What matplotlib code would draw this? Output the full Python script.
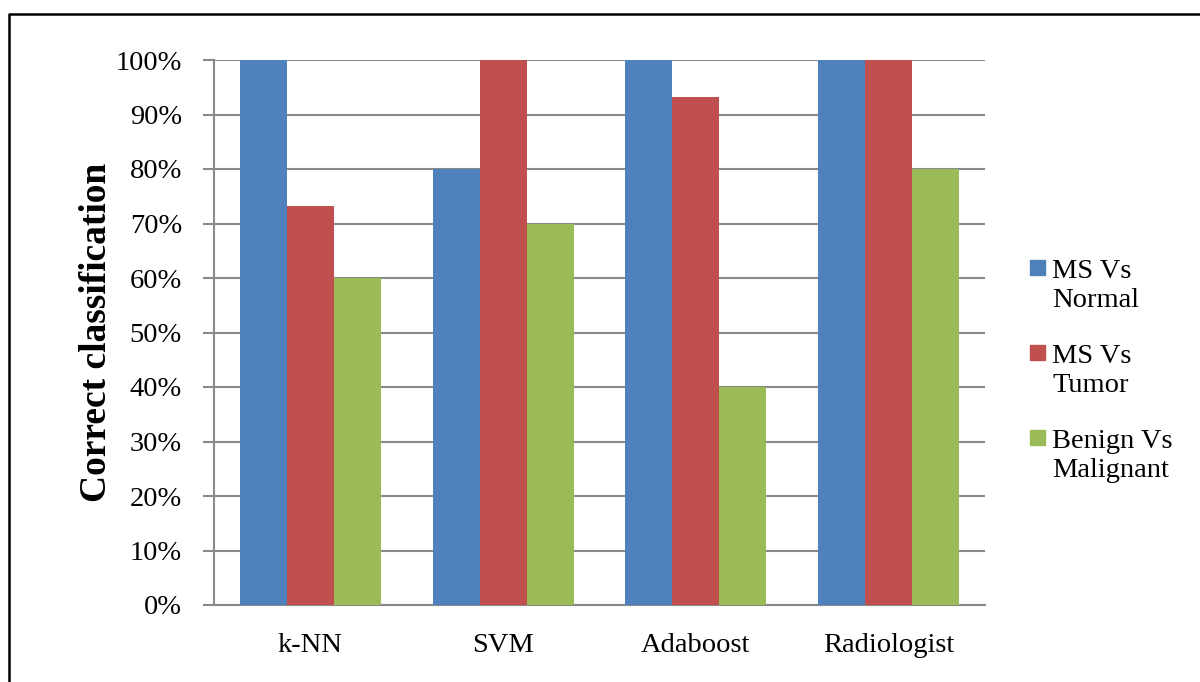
import numpy as np
import matplotlib
matplotlib.use("Agg")
from matplotlib import pyplot as plt
from matplotlib.patches import Rectangle
from matplotlib.lines import Line2D
from matplotlib.ticker import PercentFormatter

# Data
methods = ["k-NN", "SVM", "Adaboost", "Radiologist"]
series_names = ["MS Vs\nNormal", "MS Vs\nTumor", "Benign Vs\nMalignant"]
ms_vs_normal = [100, 80, 100, 100]
ms_vs_tumor = [73.3, 100, 93.3, 100]
benign_vs_malignant = [60, 70, 40, 80]
colors = ["#4F81BD", "#C0504D", "#9BBB59"]

plt.rcParams['font.family'] = ['Liberation Serif', 'DejaVu Serif']

W, H = 1200, 682
fig = plt.figure(figsize=(12, 6.82), dpi=100)
ax = fig.add_axes([214 / W, 1 - 605 / H, (985 - 214) / W, (605 - 60) / H])

x = np.arange(len(methods))
bar_w = 0.244
all_series = [ms_vs_normal, ms_vs_tumor, benign_vs_malignant]
for i, (vals, color) in enumerate(zip(all_series, colors)):
    ax.bar(x + (i - 1) * bar_w, vals, width=bar_w, color=color, zorder=3)

ax.set_xlim(-0.5, len(methods) - 0.5)
ax.set_ylim(0, 100)
ax.set_yticks(np.arange(0, 101, 10))
ax.yaxis.set_major_formatter(PercentFormatter(decimals=0))
ax.set_xticks(x)
ax.set_xticklabels(methods)

ax.grid(axis='y', color='#898989', linewidth=1.5, zorder=0)
ax.tick_params(axis='y', length=8, width=1.5, color='#898989', pad=15, labelsize=20.5)
ax.tick_params(axis='x', length=0, pad=20, labelsize=20.5)
for side in ['top', 'right']:
    ax.spines[side].set_visible(False)
for side in ['left', 'bottom']:
    ax.spines[side].set_color('#898989')
    ax.spines[side].set_linewidth(1.5)

ax.set_ylabel("Correct classification", fontsize=27, fontweight='bold')
ax.yaxis.set_label_coords(-0.13, 0.5)

# legend drawn by hand so the square lines up with the first text line
for i, (name, color) in enumerate(zip(series_names, colors)):
    cy = 286 + 85 * i
    fig.patches.append(Rectangle((1030 / W, 1 - (cy - 11) / H), 15 / W, 15 / H,
                                 transform=fig.transFigure, color=color))
    fig.text(1052 / W, 1 - cy / H, name, fontsize=20.5, va='center', ha='left',
             linespacing=1.25)

# outer frame (only top and left edges fall inside the picture)
fig.lines.append(Line2D([8.5 / W, 8.5 / W, 1.0], [0.0, 1 - 13.5 / H, 1 - 13.5 / H],
                        transform=fig.transFigure, color='black', linewidth=1.8))

fig.savefig("out.png", dpi=100)
